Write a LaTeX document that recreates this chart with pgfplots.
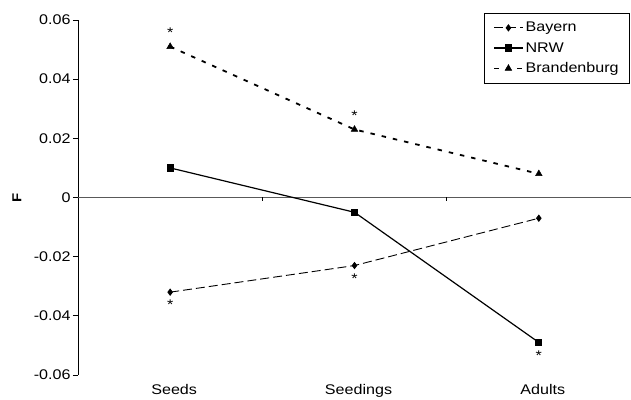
\documentclass[border=0pt]{standalone}
\usepackage{pgfplots}
\pgfplotsset{compat=1.18}
\usepackage{fontspec}
\setmainfont[FakeStretch=1.15]{Liberation Sans}
\begin{document}
\begin{tikzpicture}
\begin{axis}[
  scale only axis,
  width=553pt, height=355pt,
  xmin=-0.5, xmax=2.5,
  ymin=-0.06, ymax=0.06,
  axis y line*=left,
  axis x line*=bottom,
  x axis line style={draw=none},
  xtick={0,1,2},
  xticklabels={Seeds,Seedings,Adults},
  xtick style={draw=none},
  xticklabel style={xshift=4pt, yshift=-1pt},
  ytick={-0.06,-0.04,-0.02,0,0.02,0.04,0.06},
  yticklabels={-0.06,-0.04,-0.02,0,0.02,0.04,0.06},
  scaled y ticks=false,
  tick align=outside,
  major tick length=5pt,
  ytick style={black, line width=0.7pt},
  y axis line style={black, line width=0.8pt},
  yticklabel style={xshift=1pt},
  /pgf/number format/assume math mode=true,
  tick label style={font=\fontsize{14}{16}\selectfont},
  ylabel={\textbf{F}},
  every axis y label/.style={at={(rel axis cs:0,0.5)}, anchor=center, xshift=-61pt, rotate=90, font=\fontsize{13}{15}\selectfont},
  legend style={at={(rel axis cs:0.9982,1.0197)}, anchor=north east, draw=black, line width=0.7pt,
    font=\fontsize{14}{16}\selectfont, inner xsep=9pt, inner ysep=7pt, row sep=5pt,
    cells={anchor=west}},
  legend cell align=left,
  legend image code/.code={
    \draw[mark repeat=2,mark phase=2,#1] plot coordinates {(0cm,0cm) (0.5cm,0cm) (1.0cm,0cm)};
  },
  clip=false,
]
\draw[gray!70!black, line width=1pt] (axis cs:-0.5,0) -- (axis cs:2.5,0);
\draw[black, line width=0.6pt] (axis cs:0.5,0) -- ([yshift=-4pt]axis cs:0.5,0);
\draw[black, line width=0.6pt] (axis cs:1.5,0) -- ([yshift=-4pt]axis cs:1.5,0);
\addplot[black, line width=0.9pt, dash pattern=on 9pt off 4pt, mark=diamond*, mark size=3pt, mark options={solid}]
  coordinates {(0,-0.032) (1,-0.023) (2,-0.007)};
\addlegendentry{Bayern}
\addplot[black, line width=1.2pt, mark=square*, mark size=3pt, mark options={solid}]
  coordinates {(0,0.010) (1,-0.005) (2,-0.049)};
\addlegendentry{NRW}
\addplot[black, line width=1.8pt, dash pattern=on 4.5pt off 7pt, mark=triangle*, mark size=3.8pt, mark options={solid, line width=0.5pt}]
  coordinates {(0,0.051) (1,0.023) (2,0.008)};
\addlegendentry{Brandenburg}
\node[font=\fontsize{14}{14}\selectfont] at (axis cs:0,0.051) [yshift=14pt] {*};
\node[font=\fontsize{14}{14}\selectfont] at (axis cs:1,0.023) [yshift=14pt] {*};
\node[font=\fontsize{14}{14}\selectfont] at (axis cs:0,-0.032) [yshift=-13pt] {*};
\node[font=\fontsize{14}{14}\selectfont] at (axis cs:1,-0.023) [yshift=-13pt] {*};
\node[font=\fontsize{14}{14}\selectfont] at (axis cs:2,-0.049) [yshift=-13pt] {*};
\coordinate (ll) at (rel axis cs:0,0);
\coordinate (ur) at (rel axis cs:1,1);
\end{axis}
\pgfresetboundingbox
\path ([shift={(-78pt,-24pt)}]ll) rectangle ([shift={(0pt,20pt)}]ur);
\end{tikzpicture}
\end{document}
